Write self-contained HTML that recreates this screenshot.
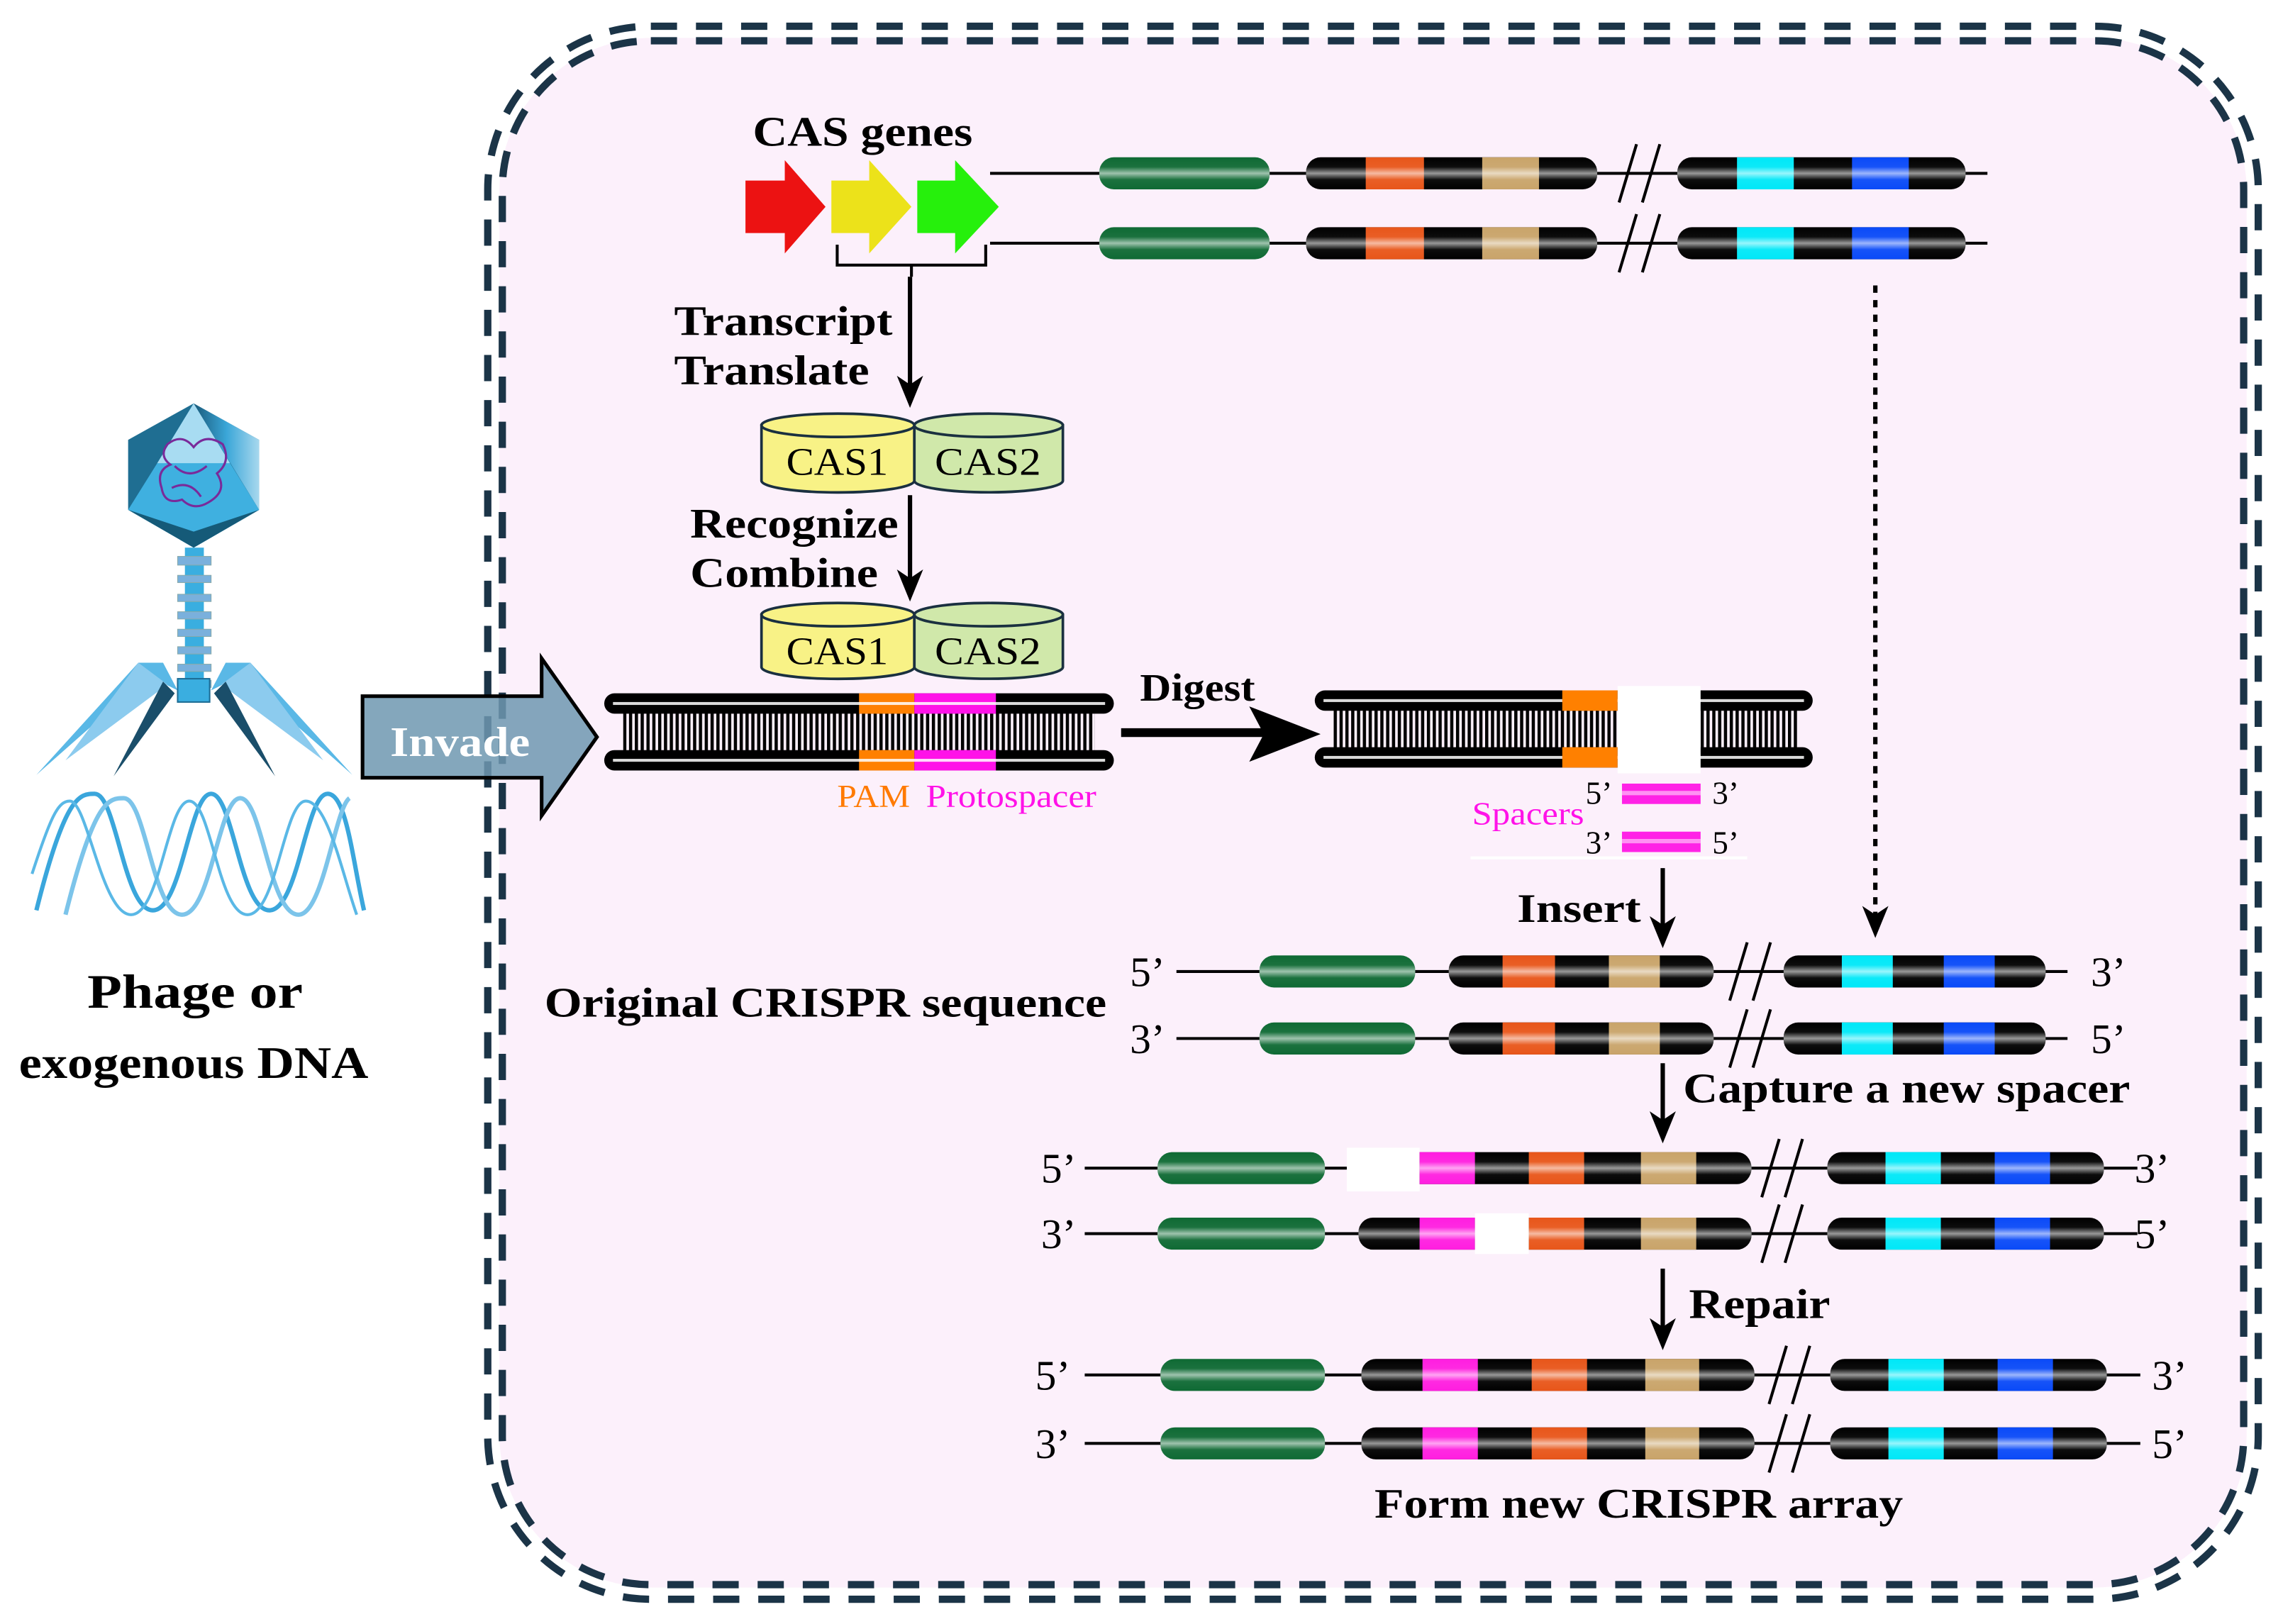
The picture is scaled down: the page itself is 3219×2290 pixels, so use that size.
<!DOCTYPE html>
<html><head><meta charset="utf-8"><style>
html,body{margin:0;padding:0;background:#fff}
svg{display:block}
text{font-family:"Liberation Serif","Times New Roman",serif}
.b{font-weight:bold}
</style></head><body>
<svg width="3219" height="2290" viewBox="0 0 1568 1115" preserveAspectRatio="none" xmlns="http://www.w3.org/2000/svg" font-family="Liberation Serif, serif">
<defs>
<linearGradient id="gl" x1="0" y1="0" x2="0" y2="1">
<stop offset="0" stop-color="#fff" stop-opacity="0"/>
<stop offset="0.3" stop-color="#fff" stop-opacity="0.05"/>
<stop offset="0.5" stop-color="#fff" stop-opacity="0.6"/>
<stop offset="0.7" stop-color="#fff" stop-opacity="0.05"/>
<stop offset="1" stop-color="#fff" stop-opacity="0"/>
</linearGradient>
<pattern id="rung" x="0" y="0" width="4" height="10" patternUnits="userSpaceOnUse">
<rect x="0" y="0" width="2.2" height="10" fill="#000"/>
</pattern>
<linearGradient id="head" x1="0" y1="0" x2="1" y2="0">
<stop offset="0" stop-color="#1a5a7a"/><stop offset="0.5" stop-color="#3aa6d8"/><stop offset="1" stop-color="#a8d8ee"/>
</linearGradient>
<g id="trow">
<line x1="680" y1="0" x2="1365" y2="0" stroke="#000" stroke-width="2"/>
<rect x="755" y="-11" width="117" height="22" rx="10" fill="#0f6a34"/>
<rect x="755" y="-11" width="117" height="22" rx="10" fill="url(#gl)"/>
<rect x="897" y="-11" width="200" height="22" rx="10" fill="#000"/>
<rect x="938" y="-11" width="40" height="22" fill="#e8561a"/>
<rect x="1018" y="-11" width="39" height="22" fill="#c9a46a"/>
<rect x="897" y="-11" width="200" height="22" rx="10" fill="url(#gl)"/>
<line x1="1112" y1="20" x2="1124" y2="-20" stroke="#000" stroke-width="2"/>
<line x1="1128" y1="20" x2="1140" y2="-20" stroke="#000" stroke-width="2"/>
<rect x="1152" y="-11" width="198" height="22" rx="10" fill="#000"/>
<rect x="1193" y="-11" width="39" height="22" fill="#00e8f8"/>
<rect x="1272" y="-11" width="39" height="22" fill="#0a4af8"/>
<rect x="1152" y="-11" width="198" height="22" rx="10" fill="url(#gl)"/>
</g>
<g id="mrow">
<line x1="808" y1="0" x2="1420" y2="0" stroke="#000" stroke-width="2"/>
<rect x="865" y="-11" width="107" height="22" rx="10" fill="#0f6a34"/>
<rect x="865" y="-11" width="107" height="22" rx="10" fill="url(#gl)"/>
<rect x="995" y="-11" width="182" height="22" rx="10" fill="#000"/>
<rect x="1032" y="-11" width="36" height="22" fill="#e8561a"/>
<rect x="1105" y="-11" width="35" height="22" fill="#c9a46a"/>
<rect x="995" y="-11" width="182" height="22" rx="10" fill="url(#gl)"/>
<line x1="1188" y1="20" x2="1200" y2="-20" stroke="#000" stroke-width="2"/>
<line x1="1204" y1="20" x2="1216" y2="-20" stroke="#000" stroke-width="2"/>
<rect x="1225" y="-11" width="180" height="22" rx="10" fill="#000"/>
<rect x="1265" y="-11" width="35" height="22" fill="#00e8f8"/>
<rect x="1335" y="-11" width="35" height="22" fill="#0a4af8"/>
<rect x="1225" y="-11" width="180" height="22" rx="10" fill="url(#gl)"/>
</g>
<g id="frow">
<line x1="745" y1="0" x2="1470" y2="0" stroke="#000" stroke-width="2"/>
<rect x="797" y="-11" width="113" height="22" rx="10" fill="#0f6a34"/>
<rect x="797" y="-11" width="113" height="22" rx="10" fill="url(#gl)"/>
<rect x="935" y="-11" width="270" height="22" rx="10" fill="#000"/>
<rect x="977" y="-11" width="38" height="22" fill="#ff1ee0"/>
<rect x="1052" y="-11" width="38" height="22" fill="#e8561a"/>
<rect x="1130" y="-11" width="37" height="22" fill="#c9a46a"/>
<rect x="935" y="-11" width="270" height="22" rx="10" fill="url(#gl)"/>
<line x1="1215" y1="20" x2="1227" y2="-20" stroke="#000" stroke-width="2"/>
<line x1="1231" y1="20" x2="1243" y2="-20" stroke="#000" stroke-width="2"/>
<rect x="1257" y="-11" width="190" height="22" rx="10" fill="#000"/>
<rect x="1297" y="-11" width="38" height="22" fill="#00e8f8"/>
<rect x="1372" y="-11" width="38" height="22" fill="#0a4af8"/>
<rect x="1257" y="-11" width="190" height="22" rx="10" fill="url(#gl)"/>
</g>
</defs>

<rect width="1568" height="1115" fill="#fff"/>
<rect x="343" y="26" width="1200" height="1064" rx="105" fill="#fcf0fb"/>
<rect x="335" y="18" width="1216" height="1080" rx="112" fill="none" stroke="#1b3447" stroke-width="5" stroke-dasharray="18 13"/>
<rect x="345" y="28" width="1196" height="1060" rx="102" fill="none" stroke="#1b3447" stroke-width="5" stroke-dasharray="18 13"/>

<!-- Phage -->
<g>
<polygon points="133,277 178,302 178,350 133,376 88,350 88,302" fill="#1f6e92"/>
<polygon points="133,277 158,318 178,350 133,376 88,350 108,318" fill="#3fb0e0"/>
<polygon points="133,277 178,302 178,350" fill="url(#head)"/>
<polygon points="133,277 108,318 158,318" fill="#a8dcf2"/>
<polygon points="88,350 133,376 178,350 133,365" fill="#155a78"/>
<path d="M115,305 q10,-8 18,2 q8,-10 20,-2 q6,12 -4,20 q8,12 -6,20 q-10,6 -18,-2 q-12,4 -14,-8 q-4,-12 6,-16 q-8,-6 -2,-14 z M120,320 q10,10 22,0 M118,335 q12,-6 20,6" fill="none" stroke="#7a2a9a" stroke-width="1.5"/>
<rect x="127" y="376" width="13" height="90" fill="#3aaee0"/>
<g fill="#7ab0dc" stroke="#8aa" stroke-width="0.5">
<rect x="122" y="382" width="23" height="6"/><rect x="122" y="395" width="23" height="5"/><rect x="122" y="408" width="23" height="5"/><rect x="122" y="420" width="23" height="5"/><rect x="122" y="432" width="23" height="5"/><rect x="122" y="444" width="23" height="5"/><rect x="122" y="456" width="23" height="5"/><rect x="122" y="467" width="23" height="5"/>
</g>
<polygon points="122,474 112,455 95,455 25,532 102,464" fill="#5ab8e6"/>
<polygon points="115,470 95,455 45,522" fill="#8ccbee"/>
<polygon points="120,476 112,468 78,533" fill="#1a4e6a"/>
<polygon points="145,474 155,455 172,455 242,532 165,464" fill="#5ab8e6"/>
<polygon points="152,470 172,455 222,522" fill="#8ccbee"/>
<polygon points="147,476 155,468 189,533" fill="#1a4e6a"/>
<rect x="122" y="466" width="22" height="16" fill="#3aaee0" stroke="#1d6d95" stroke-width="1"/>
<g fill="none" stroke-width="3">
<path d="M25,625 C45,545 55,545 65,545 C80,545 85,625 105,625 C125,625 130,545 145,545 C160,545 165,625 185,625 C205,625 210,545 225,545 C238,545 242,590 250,625" stroke="#3aa6dc"/>
<path d="M45,628 C65,548 75,548 85,548 C100,548 105,628 125,628 C145,628 150,548 165,548 C180,548 185,628 205,628 C222,628 230,555 240,548" stroke="#7cc4ea"/>
<path d="M22,600 C35,560 40,550 48,550 C60,550 70,628 90,628 C110,628 115,550 130,550 C145,550 150,628 170,628 C190,628 195,550 210,550 C225,550 235,600 245,628" stroke="#5ab8e6" stroke-width="2"/>
</g>
<text x="60" y="692" class="b" font-size="33" textLength="148" lengthAdjust="spacingAndGlyphs">Phage or</text>
<text x="13" y="740" class="b" font-size="31" textLength="240" lengthAdjust="spacingAndGlyphs">exogenous DNA</text>
</g>

<!-- Invade arrow -->
<polygon points="249,478 372,478 372,452 410,506 372,560 372,534 249,534" fill="#6e98b0" fill-opacity="0.85" stroke="#000" stroke-width="2.5"/>
<text x="268" y="519" class="b" font-size="29" fill="#fff" textLength="96" lengthAdjust="spacingAndGlyphs">Invade</text>

<!-- CAS genes -->
<text x="517" y="100" class="b" font-size="29" textLength="151" lengthAdjust="spacingAndGlyphs">CAS genes</text>
<polygon points="512,124 539,124 539,110 567,142 539,174 539,160 512,160" fill="#ec1212"/>
<polygon points="571,124 597,124 597,110 626,142 597,174 597,160 571,160" fill="#ece21a"/>
<polygon points="630,124 656,124 656,110 686,142 656,174 656,160 630,160" fill="#26f00c"/>
<path d="M575,168 V182 H677 V168 M626,182 V190" fill="none" stroke="#000" stroke-width="2"/>
<use href="#trow" y="119"/>
<use href="#trow" y="167"/>

<g stroke="#000" stroke-width="3">
<line x1="625" y1="190" x2="625" y2="265"/>
<line x1="625" y1="340" x2="625" y2="398"/>
<line x1="1142" y1="596" x2="1142" y2="636"/>
<line x1="1142" y1="730" x2="1142" y2="770"/>
<line x1="1142" y1="871" x2="1142" y2="912"/>
<line x1="1288" y1="196" x2="1288" y2="630" stroke-dasharray="5 5"/>
<line x1="770" y1="503" x2="870" y2="503" stroke-width="6"/>
</g>
<g fill="#000">
<polygon points="616,258 625,280 634,258 625,264"/>
<polygon points="616,391 625,413 634,391 625,397"/>
<polygon points="1133,629 1142,651 1151,629 1142,635"/>
<polygon points="1133,763 1142,785 1151,763 1142,769"/>
<polygon points="1133,905 1142,927 1151,905 1142,911"/>
<polygon points="1279,622 1288,644 1297,622 1288,628"/>
<polygon points="858,485 907,504 858,523 868,504"/>
</g>
<text x="463" y="230" class="b" font-size="29" textLength="150" lengthAdjust="spacingAndGlyphs">Transcript</text>
<text x="463" y="264" class="b" font-size="29" textLength="134" lengthAdjust="spacingAndGlyphs">Translate</text>
<text x="474" y="369" class="b" font-size="29" textLength="143" lengthAdjust="spacingAndGlyphs">Recognize</text>
<text x="474" y="403" class="b" font-size="29" textLength="129" lengthAdjust="spacingAndGlyphs">Combine</text>

<g stroke="#1a3040" stroke-width="1.8">
<path d="M523,292 V330 A52,8 0 0 0 628,330 V292 Z" fill="#f8f286"/>
<ellipse cx="575.5" cy="292" rx="52.5" ry="8" fill="#f8f286"/>
<path d="M628,292 V330 A51,8 0 0 0 730,330 V292 Z" fill="#d0e8aa"/>
<ellipse cx="679" cy="292" rx="51" ry="8" fill="#d0e8aa"/>
<path d="M523,422 V458 A52,8 0 0 0 628,458 V422 Z" fill="#f8f286"/>
<ellipse cx="575.5" cy="422" rx="52.5" ry="8" fill="#f8f286"/>
<path d="M628,422 V458 A51,8 0 0 0 730,458 V422 Z" fill="#d0e8aa"/>
<ellipse cx="679" cy="422" rx="51" ry="8" fill="#d0e8aa"/>
</g>
<text x="540" y="326" font-size="27" textLength="70" lengthAdjust="spacingAndGlyphs">CAS1</text>
<text x="642" y="326" font-size="27" textLength="73" lengthAdjust="spacingAndGlyphs">CAS2</text>
<text x="540" y="456" font-size="27" textLength="70" lengthAdjust="spacingAndGlyphs">CAS1</text>
<text x="642" y="456" font-size="27" textLength="73" lengthAdjust="spacingAndGlyphs">CAS2</text>

<rect x="428" y="489" width="324" height="28" fill="url(#rung)"/>
<rect x="415" y="476" width="350" height="14" rx="7" fill="#000"/>
<rect x="415" y="515" width="350" height="14" rx="7" fill="#000"/>
<rect x="590" y="476" width="38" height="14" fill="#ff8000"/><rect x="628" y="476" width="56" height="14" fill="#ff12e8"/>
<rect x="590" y="515" width="38" height="14" fill="#ff8000"/><rect x="628" y="515" width="56" height="14" fill="#ff12e8"/>
<rect x="421" y="482" width="338" height="2" fill="#fff" opacity="0.85"/>
<rect x="421" y="521" width="338" height="2" fill="#fff" opacity="0.85"/>
<text x="575" y="554" font-size="22" fill="#ff7a00" textLength="50" lengthAdjust="spacingAndGlyphs">PAM</text>
<text x="636" y="554" font-size="22" fill="#ff12e8" textLength="117" lengthAdjust="spacingAndGlyphs">Protospacer</text>
<text x="783" y="481" class="b" font-size="27" textLength="79" lengthAdjust="spacingAndGlyphs">Digest</text>

<rect x="915" y="487" width="320" height="28" fill="url(#rung)"/>
<rect x="903" y="474" width="342" height="14" rx="7" fill="#000"/>
<rect x="903" y="513" width="342" height="14" rx="7" fill="#000"/>
<rect x="909" y="480" width="330" height="2" fill="#fff" opacity="0.85"/>
<rect x="909" y="519" width="330" height="2" fill="#fff" opacity="0.85"/>
<rect x="1073" y="474" width="38" height="14" fill="#ff8000"/>
<rect x="1073" y="513" width="38" height="14" fill="#ff8000"/>
<rect x="1111" y="471" width="57" height="60" fill="#fff"/>
<rect x="1114" y="538" width="54" height="14" fill="#ff22e6"/>
<rect x="1114" y="571" width="54" height="14" fill="#ff22e6"/>
<rect x="1114" y="543" width="54" height="3" fill="#fff" opacity="0.5"/>
<rect x="1114" y="576" width="54" height="3" fill="#fff" opacity="0.5"/>
<text x="1089" y="552" font-size="22">5’</text><text x="1176" y="552" font-size="22">3’</text>
<text x="1089" y="586" font-size="22">3’</text><text x="1176" y="586" font-size="22">5’</text>
<text x="1011" y="566" font-size="22" fill="#ff12e8" textLength="77" lengthAdjust="spacingAndGlyphs">Spacers</text>
<line x1="1010" y1="589" x2="1200" y2="589" stroke="#fff" stroke-width="2"/>
<text x="1042" y="633" class="b" font-size="28" textLength="85" lengthAdjust="spacingAndGlyphs">Insert</text>

<text x="374" y="698" class="b" font-size="29" textLength="386" lengthAdjust="spacingAndGlyphs">Original CRISPR sequence</text>
<use href="#mrow" y="667"/>
<use href="#mrow" y="713"/>
<text x="776" y="677" font-size="29">5’</text><text x="1436" y="677" font-size="29">3’</text>
<text x="776" y="723" font-size="29">3’</text><text x="1436" y="723" font-size="29">5’</text>
<text x="1156" y="757" class="b" font-size="29" textLength="307" lengthAdjust="spacingAndGlyphs">Capture a new spacer</text>

<g>
<line x1="745" y1="802" x2="1468" y2="802" stroke="#000" stroke-width="2"/>
<rect x="795" y="791" width="115" height="22" rx="10" fill="#0f6a34"/>
<rect x="795" y="791" width="115" height="22" rx="10" fill="url(#gl)"/>
<rect x="925" y="788" width="50" height="30" fill="#fff"/>
<path d="M975,791 H1193 A10,11 0 0 1 1193,813 H975 Z" fill="#000"/>
<rect x="975" y="791" width="38" height="22" fill="#ff1ee0"/>
<rect x="1050" y="791" width="38" height="22" fill="#e8561a"/>
<rect x="1127" y="791" width="38" height="22" fill="#c9a46a"/>
<path d="M975,791 H1193 A10,11 0 0 1 1193,813 H975 Z" fill="url(#gl)"/>
<line x1="1210" y1="822" x2="1222" y2="782" stroke="#000" stroke-width="2"/>
<line x1="1226" y1="822" x2="1238" y2="782" stroke="#000" stroke-width="2"/>
<rect x="1255" y="791" width="190" height="22" rx="10" fill="#000"/>
<rect x="1295" y="791" width="38" height="22" fill="#00e8f8"/>
<rect x="1370" y="791" width="38" height="22" fill="#0a4af8"/>
<rect x="1255" y="791" width="190" height="22" rx="10" fill="url(#gl)"/>
</g>
<g>
<line x1="745" y1="847" x2="1468" y2="847" stroke="#000" stroke-width="2"/>
<rect x="795" y="836" width="115" height="22" rx="10" fill="#0f6a34"/>
<rect x="795" y="836" width="115" height="22" rx="10" fill="url(#gl)"/>
<rect x="933" y="836" width="270" height="22" rx="10" fill="#000"/>
<rect x="975" y="836" width="38" height="22" fill="#ff1ee0"/>
<rect x="1050" y="836" width="38" height="22" fill="#e8561a"/>
<rect x="1127" y="836" width="38" height="22" fill="#c9a46a"/>
<rect x="933" y="836" width="270" height="22" rx="10" fill="url(#gl)"/>
<rect x="1013" y="833" width="37" height="28" fill="#fff"/>
<line x1="1210" y1="867" x2="1222" y2="827" stroke="#000" stroke-width="2"/>
<line x1="1226" y1="867" x2="1238" y2="827" stroke="#000" stroke-width="2"/>
<rect x="1255" y="836" width="190" height="22" rx="10" fill="#000"/>
<rect x="1295" y="836" width="38" height="22" fill="#00e8f8"/>
<rect x="1370" y="836" width="38" height="22" fill="#0a4af8"/>
<rect x="1255" y="836" width="190" height="22" rx="10" fill="url(#gl)"/>
</g>
<text x="715" y="812" font-size="29">5’</text><text x="1466" y="812" font-size="29">3’</text>
<text x="715" y="857" font-size="29">3’</text><text x="1466" y="857" font-size="29">5’</text>
<text x="1160" y="905" class="b" font-size="29" textLength="97" lengthAdjust="spacingAndGlyphs">Repair</text>

<use href="#frow" y="944"/>
<use href="#frow" y="991"/>
<text x="711" y="954" font-size="29">5’</text><text x="1478" y="954" font-size="29">3’</text>
<text x="711" y="1001" font-size="29">3’</text><text x="1478" y="1001" font-size="29">5’</text>
<text x="944" y="1042" class="b" font-size="29" textLength="363" lengthAdjust="spacingAndGlyphs">Form new CRISPR array</text>
</svg>
</body></html>
